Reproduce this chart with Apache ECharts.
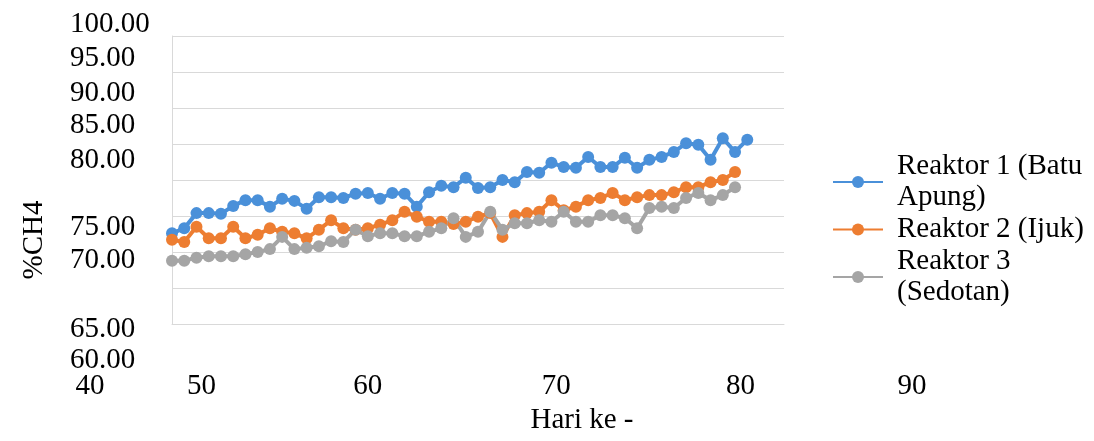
<!DOCTYPE html>
<html><head><meta charset="utf-8">
<script src="https://cdn.jsdelivr.net/npm/echarts@6/dist/echarts.min.js"></script>
<style>html,body{margin:0;padding:0;background:#fff}#c{width:1094px;height:441px}</style>
</head><body><div id="c"></div>
<script>
// ---- data ----
const daysR1 = [40,41,42,43,44,45,46,47,48,49,50,51,52,53,54,55,56,57,58,59,60,61,62,63,64,65,66,67,68,69,70,71,72,73,74,75,76,77,78,79,80,81,82,83,84,85,86,87];
const daysR23 = [40,41,42,43,44,45,46,47,48,49,50,51,52,53,54,55,56,57,58,59,60,61,62,63,64,65,66,67,68,69,70,71,72,73,74,75,76,77,78,79,80,81,82,83,84,85,86];
const reaktor1 = [72.6,73.3,75.4,75.4,75.3,76.4,77.2,77.2,76.3,77.4,77.1,76.0,77.6,77.6,77.5,78.1,78.2,77.4,78.2,78.1,76.3,78.3,79.2,79.0,80.3,78.9,79.0,80.0,79.7,81.1,81.0,82.4,81.8,81.7,83.2,81.8,81.8,83.1,81.7,82.8,83.2,83.9,85.1,84.9,82.8,85.8,83.9,85.6];
const reaktor2 = [71.7,71.4,73.5,71.9,71.9,73.5,71.9,72.4,73.3,72.8,72.6,71.9,73.1,74.4,73.3,73.1,73.3,73.8,74.4,75.6,74.9,74.2,74.2,73.9,74.2,74.9,75.4,72.1,75.1,75.4,75.6,77.2,75.8,76.3,77.2,77.5,78.2,77.2,77.6,77.9,77.9,78.3,79.0,79.0,79.7,80.0,81.1];
const reaktor3 = [68.8,68.8,69.2,69.4,69.4,69.4,69.7,70.0,70.4,72.1,70.4,70.6,70.8,71.5,71.4,73.1,72.2,72.6,72.6,72.2,72.2,72.8,73.3,74.7,72.1,72.8,75.6,73.1,74.0,74.0,74.4,74.2,75.6,74.2,74.2,75.1,75.1,74.7,73.3,76.1,76.3,76.1,77.5,78.2,77.2,77.9,79.0];
const seriesNames = ['Reaktor 1 (Batu Apung)', 'Reaktor 2 (Ijuk)', 'Reaktor 3 (Sedotan)'];
const legendLabels = ['Reaktor 1 (Batu\nApung)', 'Reaktor 2 (Ijuk)', 'Reaktor 3\n(Sedotan)'];
const xTicksA = [40, 60, 80];
const xTicksB = [50, 70, 90];
const yTicksA = [70, 85, 100];
const yTicksB = [65, 80, 95];
const yTicksC = [60, 75, 90];
const xTitle = 'Hari ke -';
const yTitle = '%CH4';

// ---- layout (label displacement as in the reference picture) ----
const xShift = {40: -82, 50: -93, 60: -49, 70: 17, 80: 79, 90: 128};
const yShift = {100: -12, 95: -14, 90: -15, 85: -19, 80: -20, 75: 11, 70: 8, 65: 41, 60: 36};
const FONT = "'Liberation Serif', 'Times New Roman', serif";
const FS = 29;
const colors = ['#4A90D9', '#ED7D31', '#A5A5A5'];

const xRich = {};
Object.keys(xShift).forEach(v => {
  const s = xShift[v];
  xRich['x' + v] = {fontFamily: FONT, fontSize: FS, color: '#000', lineHeight: 20,
    padding: s < 0 ? [0, -2 * s, 0, 0] : [0, 0, 0, 2 * s]};
});
const yRich = {};
Object.keys(yShift).forEach(v => {
  const s = yShift[v];
  yRich['y' + v] = {fontFamily: FONT, fontSize: FS, color: '#000', lineHeight: 20,
    padding: s < 0 ? [0, 0, -2 * s, 0] : [2 * s, 0, 0, 0]};
});

const xsets = [daysR1, daysR23, daysR23];
const ysets = [reaktor1, reaktor2, reaktor3];
const gridLine = {color: '#d9d9d9', width: 1};

function xAxisDef(vals, main) {
  return {
    type: 'value', gridIndex: 0, position: 'bottom', offset: 0,
    min: 40, max: 90, interval: 10,
    name: main ? xTitle : '', nameLocation: 'middle', nameGap: 78,
    nameTextStyle: {fontFamily: FONT, fontSize: FS, color: '#000', padding: [0, 0, 0, 208]},
    axisLine: {show: main, onZero: false, lineStyle: gridLine},
    axisTick: {show: false},
    splitLine: {show: false},
    axisLabel: {
      margin: 52, showMinLabel: true, showMaxLabel: true,
      customValues: vals,
      formatter: v => '{x' + v + '|' + v + '}',
      rich: xRich
    }
  };
}
function yAxisDef(vals, main) {
  return {
    type: 'value', gridIndex: 0, position: 'left', offset: 0,
    min: 60, max: 100, interval: 5,
    name: main ? yTitle : '', nameLocation: 'middle', nameGap: 123, nameRotate: 90,
    nameTextStyle: {fontFamily: FONT, fontSize: FS, color: '#000', padding: [0, 120, 0, 0]},
    axisLine: {show: main, onZero: false, lineStyle: gridLine},
    axisTick: {show: false},
    splitLine: {show: main, lineStyle: gridLine},
    axisLabel: {
      margin: 102, align: 'left', showMinLabel: true, showMaxLabel: true,
      customValues: vals,
      formatter: v => '{y' + v + '|' + Number(v).toFixed(2) + '}',
      rich: yRich
    }
  };
}

const chart = echarts.init(document.getElementById('c'), null, {renderer: 'canvas'});
chart.setOption({
  animation: false,
  backgroundColor: '#fff',
  grid: {left: 172, right: 310, top: 36, bottom: 117, containLabel: false, outerBoundsMode: 'none'},
  xAxis: [xAxisDef(xTicksA, true), xAxisDef(xTicksB, false)],
  yAxis: [yAxisDef(yTicksA, true), yAxisDef(yTicksB, false), yAxisDef(yTicksC, false)],
  legend: {
    orient: 'vertical', left: 827, top: 146, itemGap: 1,
    itemWidth: 50, itemHeight: 15,
    data: seriesNames,
    formatter: n => legendLabels[seriesNames.indexOf(n)],
    textStyle: {fontFamily: FONT, fontSize: FS, lineHeight: 31, color: '#000', padding: [0, 0, 0, 9]}
  },
  series: seriesNames.map((n, k) => ({
    name: n, type: 'line', xAxisIndex: 0, yAxisIndex: 0,
    data: xsets[k].map((d, i) => [d, ysets[k][i]]),
    symbol: 'circle', symbolSize: 12, showSymbol: true,
    lineStyle: {width: 4, color: colors[k]},
    itemStyle: {color: colors[k]},
    emphasis: {disabled: true}
  }))
});
</script></body></html>
